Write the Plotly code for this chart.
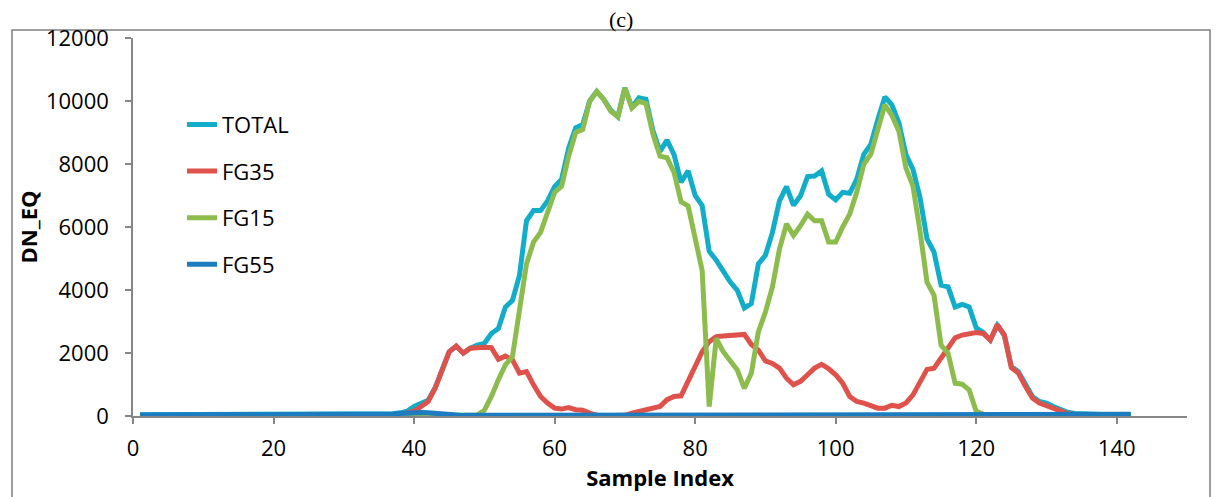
import plotly.graph_objects as go

sample_index = list(range(1, 143))

total = [
    40, 40, 40, 40, 40, 40, 40, 40, 40, 40,
    40, 40, 40, 40, 40, 40, 40, 40, 40, 40,
    40, 40, 40, 40, 45, 45, 45, 50, 50, 50,
    50, 50, 55, 55, 60, 60, 70, 100, 150, 300,
    400, 500, 900, 1500, 2040, 2220, 2000, 2150, 2250, 2300,
    2620, 2780, 3460, 3670, 4460, 6200, 6520, 6520, 6830, 7280,
    7520, 8500, 9150, 9250, 10000, 10300, 10050, 9700, 9500, 10420,
    9800, 10100, 10050, 9050, 8400, 8760, 8300, 7420, 7780, 7000,
    6680, 5230, 4950, 4600, 4250, 3990, 3430, 3570, 4830, 5100,
    5830, 6830, 7280, 6690, 6990, 7600, 7620, 7780, 7040, 6860,
    7100, 7070, 7520, 8310, 8620, 9410, 10130, 9880, 9300, 8300,
    7830, 6940, 5620, 5200, 4150, 4100, 3460, 3540, 3460, 2800,
    2650, 2410, 2880, 2570, 1570, 1410, 990, 620, 460, 410,
    300, 200, 120, 80, 60, 55, 55, 50, 50, 50,
    50, 50,
]

fg35 = [
    0, 0, 0, 0, 0, 0, 0, 0, 0, 0,
    0, 0, 0, 0, 0, 0, 0, 0, 0, 0,
    0, 0, 0, 0, 0, 0, 0, 0, 0, 0,
    0, 0, 0, 0, 10, 10, 20, 60, 100, 150,
    300, 460, 880, 1500, 2040, 2220, 1990, 2150, 2180, 2180,
    2170, 1800, 1900, 1780, 1360, 1410, 990, 620, 410, 250,
    220, 270, 200, 180, 90, 20, 10, 10, 10, 20,
    90, 150, 200, 250, 300, 520, 620, 640, 1100, 1520,
    2040, 2360, 2520, 2540, 2560, 2580, 2590, 2270, 2090, 1750,
    1670, 1520, 1200, 990, 1100, 1310, 1520, 1640, 1500, 1310,
    1040, 620, 460, 410, 340, 250, 250, 340, 300, 410,
    670, 1100, 1480, 1520, 1830, 2200, 2480, 2570, 2620, 2650,
    2620, 2410, 2900, 2570, 1540, 1360, 940, 570, 410, 330,
    250, 150, 80, 40, 20, 10, 10, 10, 10, 10,
    10, 10,
]

fg15 = [
    0, 0, 0, 0, 0, 0, 0, 0, 0, 0,
    0, 0, 0, 0, 0, 0, 0, 0, 0, 0,
    0, 0, 0, 0, 0, 0, 0, 0, 0, 0,
    0, 0, 0, 0, 0, 0, 0, 0, 0, 0,
    0, 0, 0, 0, 0, 0, 0, 0, 30, 180,
    620, 1150, 1620, 1880, 3300, 4830, 5520, 5830, 6460, 7100,
    7300, 8250, 9000, 9100, 10000, 10300, 10050, 9670, 9500, 10410,
    9780, 9990, 9920, 8940, 8250, 8200, 7730, 6800, 6670, 5620,
    4620, 300, 2460, 2040, 1730, 1460, 880, 1360, 2670, 3300,
    4100, 5300, 6100, 5730, 6040, 6410, 6200, 6200, 5520, 5520,
    6000, 6410, 7100, 7990, 8310, 9100, 9880, 9540, 9040, 7880,
    7300, 5880, 4250, 3830, 2250, 1990, 1040, 1010, 830, 150,
    60, 20, 10, 10, 10, 10, 10, 10, 10, 10,
    10, 10, 10, 10, 10, 10, 10, 10, 10, 10,
    10, 10,
]

fg55 = [
    30, 30, 30, 30, 30, 30, 30, 30, 30, 30,
    30, 30, 30, 30, 30, 30, 30, 30, 30, 30,
    30, 30, 30, 35, 35, 35, 40, 40, 40, 40,
    40, 45, 45, 45, 50, 50, 60, 80, 100, 110,
    110, 100, 80, 50, 30, 20, 20, 20, 20, 20,
    20, 20, 20, 20, 20, 20, 20, 20, 20, 20,
    20, 20, 20, 20, 20, 20, 20, 20, 20, 20,
    20, 20, 20, 20, 20, 20, 20, 20, 20, 20,
    20, 20, 20, 20, 20, 20, 20, 20, 20, 20,
    20, 20, 20, 20, 20, 20, 20, 20, 20, 20,
    20, 20, 20, 20, 20, 20, 20, 20, 20, 20,
    20, 20, 20, 20, 20, 20, 20, 20, 20, 20,
    20, 20, 25, 35, 45, 50, 55, 55, 55, 55,
    55, 55, 55, 55, 55, 55, 55, 55, 55, 55,
    55, 55,
]

series_names = ["TOTAL", "FG35", "FG15", "FG55"]
series_values = [total, fg35, fg15, fg55]
series_colors = ["#12ADC8", "#DE524B", "#8DBC4E", "#1B7CBF"]

x_ticks = [0, 20, 40, 60, 80, 100, 120, 140]
y_ticks = [0, 2000, 4000, 6000, 8000, 10000, 12000]

FONT = "Open Sans"
FS = 22
axis_color = "#868686"

fig = go.Figure()
for name, vals, col in zip(series_names, series_values, series_colors):
    fig.add_trace(go.Scatter(
        x=sample_index, y=vals, mode="lines", name=name,
        legendgroup=name,
        line=dict(color=col, width=5),
    ))

# page offset (browser body margin)
OFF = 8
W, H = 1221 - OFF, 497 - OFF
L, T = 133 - OFF, 38 - OFF
R = W - (1187 - OFF)
B = H - (418 - OFF)
pw = W - L - R
ph = H - T - B

def px_x(px):
    return (px - OFF - L) / pw

def px_y(py):
    return (H - B - (py - OFF)) / ph

fig.update_layout(
    width=W, height=H,
    margin=dict(l=L, r=R, t=T, b=B, pad=0),
    paper_bgcolor="white", plot_bgcolor="white",
    font=dict(family=FONT, size=FS, color="black"),
    showlegend=True,
    legend=dict(
        x=px_x(182), y=px_y(104), xanchor="left", yanchor="top",
        bgcolor="rgba(0,0,0,0)", borderwidth=0,
        font=dict(family=FONT, size=FS, color="black"),
        tracegroupgap=15, traceorder="grouped",
    ),
    xaxis=dict(
        range=[0, 150], tickmode="array", tickvals=x_ticks,
        ticktext=[str(v) for v in x_ticks],
        showgrid=False, zeroline=False, showline=True,
        linecolor=axis_color, linewidth=1.5,
        ticks="outside", ticklen=6, tickcolor=axis_color, tickwidth=1.5,
        ticklabelstandoff=6,
        tickfont=dict(family=FONT, size=FS, color="black"),
        title=dict(text="<b>Sample Index</b>", standoff=7,
                   font=dict(family=FONT, size=FS, color="black")),
    ),
    yaxis=dict(
        range=[0, 12000], tickmode="array", tickvals=y_ticks,
        ticktext=[str(v) for v in y_ticks],
        showgrid=False, zeroline=False, showline=True,
        linecolor=axis_color, linewidth=1.5,
        ticks="outside", ticklen=6, tickcolor=axis_color, tickwidth=1.5,
        ticklabelstandoff=12,
        tickfont=dict(family=FONT, size=FS, color="black"),
        title=dict(text="<b>DN_EQ</b>", standoff=2,
                   font=dict(family=FONT, size=FS, color="black")),
    ),
    shapes=[dict(
        type="rect", xref="paper", yref="paper", layer="below",
        x0=px_x(12), x1=px_x(1210), y0=px_y(530), y1=px_y(30),
        line=dict(color="#7F7F7F", width=1.5), fillcolor="rgba(0,0,0,0)",
    )],
    annotations=[dict(
        text="(c)", xref="paper", yref="paper", showarrow=False,
        x=px_x(621), y=px_y(19), xanchor="center", yanchor="middle",
        font=dict(family="Liberation Serif", size=22, color="black"),
    )],
)

fig.write_html("out.html")
